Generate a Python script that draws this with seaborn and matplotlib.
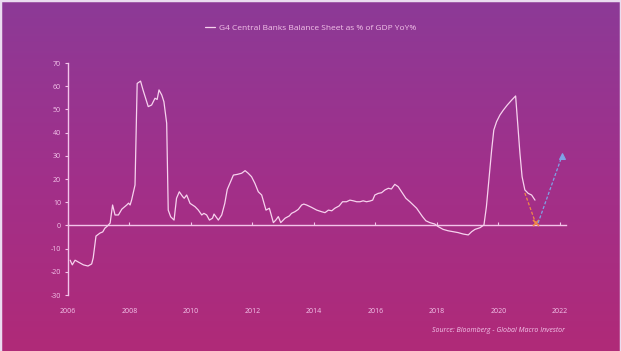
import matplotlib
matplotlib.use("Agg")
import matplotlib.pyplot as plt
import numpy as np
import pandas as pd
import seaborn as sns
from matplotlib.colors import LinearSegmentedColormap

# G4 central bank balance sheet as % of GDP, YoY%
years = [
    2006.07, 2006.14, 2006.23, 2006.50, 2006.65, 2006.77, 2006.82, 2006.91,
    2007.04, 2007.13, 2007.20, 2007.28, 2007.37, 2007.45, 2007.53, 2007.64,
    2007.75, 2007.91, 2007.97, 2008.02, 2008.07, 2008.18, 2008.25, 2008.36,
    2008.44, 2008.61, 2008.72, 2008.83, 2008.90, 2008.96, 2009.05, 2009.12,
    2009.21, 2009.26, 2009.34, 2009.45, 2009.53, 2009.62, 2009.73, 2009.78,
    2009.86, 2009.97, 2010.13, 2010.24, 2010.35, 2010.42, 2010.51, 2010.60,
    2010.70, 2010.75, 2010.89, 2011.00, 2011.10, 2011.18, 2011.38, 2011.51,
    2011.65, 2011.76, 2011.86, 2011.97, 2012.08, 2012.19, 2012.30, 2012.44,
    2012.55, 2012.68, 2012.76, 2012.84, 2012.92, 2013.06, 2013.20, 2013.27,
    2013.38, 2013.49, 2013.60, 2013.67, 2013.76, 2013.92, 2014.09, 2014.25,
    2014.36, 2014.47, 2014.58, 2014.68, 2014.82, 2014.93, 2015.06, 2015.17,
    2015.28, 2015.39, 2015.50, 2015.60, 2015.71, 2015.82, 2015.91, 2015.98,
    2016.09, 2016.20, 2016.31, 2016.42, 2016.52, 2016.63, 2016.74, 2016.85,
    2016.99, 2017.12, 2017.23, 2017.34, 2017.42, 2017.53, 2017.64, 2017.77,
    2017.93, 2018.04, 2018.20, 2018.36, 2018.53, 2018.69, 2018.85, 2019.02,
    2019.13, 2019.24, 2019.40, 2019.53, 2019.61, 2019.70, 2019.78, 2019.85,
    2019.94, 2020.05, 2020.16, 2020.29, 2020.43, 2020.56, 2020.62, 2020.70,
    2020.77, 2020.86, 2020.97, 2021.08, 2021.19,
]
values = [
    -15, -17, -15, -17, -17.5, -16.6, -14, -4.6,
    -3.3, -2.8, -1.2, -0.3, 1, 8.8, 4.5, 4.5,
    7, 8.8, 9.6, 8.8, 11, 17.4, 61.2, 62.2,
    58.4, 51.2, 51.9, 54.8, 54.3, 58.4, 56.2, 53.3,
    44, 6.6, 3.7, 2.3, 11.7, 14.5, 12.4, 11.7,
    13.1, 9.5, 8.1, 6.6, 4.5, 5.2, 4.5, 2.3,
    3.1, 4.9, 2.3, 4.5, 9.5, 15.5, 21.7, 22,
    22.5, 23.6, 22.5, 21, 18.1, 14.5, 13.1, 6.6,
    7.4, 1.2, 2.3, 3.8, 1.2, 3.1, 4.1, 5.2,
    5.9, 6.9, 8.8, 9.2, 8.8, 7.8, 6.6, 5.9,
    5.5, 6.6, 6.3, 7.4, 8.4, 10.2, 10.2, 10.9,
    10.6, 10.2, 10.2, 10.6, 10.2, 10.5, 10.9, 13.1,
    13.8, 14.1, 15.3, 16, 15.7, 17.7, 16.7, 14.5,
    11.7, 10.2, 8.8, 7.4, 5.9, 3.8, 2.0, 1.2,
    0.6, -0.5, -1.7, -2.3, -2.7, -3.1, -3.7, -4.1,
    -2.7, -1.7, -1.0, 0.2, 8.1, 21, 32.5, 41.1,
    44.7, 47.6, 49.7, 51.9, 54, 55.8, 45.4, 31.1,
    21, 15.3, 13.8, 13.1, 10.9,
]

# hand-drawn projections
down_years = [2020.86, 2021.21]
down_values = [14, 1]
up_years = [2021.29, 2022.07]
up_values = [1, 30]

year_ticks = [2006, 2008, 2010, 2012, 2014, 2016, 2018, 2020, 2022]
value_ticks = [-30, -20, -10, 0, 10, 20, 30, 40, 50, 60, 70]

series_label = "G4 Central Banks Balance Sheet as % of GDP YoY%"
source_note = "Source: Bloomberg - Global Macro Investor"

sns.set_style("ticks")
plt.rcParams["font.family"] = ["Open Sans", "DejaVu Sans"]
plt.rcParams["axes.unicode_minus"] = False

light = "#f3c4ea"
line_col = "#f7d2ee"
orange = "#f08a46"
blue = "#7fa2e6"

fig = plt.figure(figsize=(6.21, 3.51), dpi=100)

# gradient background
bg = fig.add_axes([0, 0, 1, 1], zorder=0)
cmap = LinearSegmentedColormap.from_list("bg", ["#8c3a97", "#a1308a", "#b02a78"])
grad = np.linspace(0, 1, 256).reshape(-1, 1)
bg.imshow(grad, aspect="auto", cmap=cmap, extent=[0, 1, 0, 1], origin="upper")
bg.set_xticks([])
bg.set_yticks([])
for side, spine in bg.spines.items():
    spine.set_visible(side != "bottom")
    spine.set_color("#eadcf0")
    spine.set_linewidth(2.5)

ax = fig.add_axes([0.1095, 0.1595, 0.802, 0.661], zorder=1)
ax.patch.set_alpha(0)

main = pd.DataFrame({"year": years, "value": values})
sns.lineplot(data=main, x="year", y="value", color=line_col, linewidth=0.9,
             label=series_label, ax=ax, legend=False, sort=False)
sns.lineplot(x=down_years, y=down_values, color=orange, linewidth=0.9,
             linestyle=(0, (2.5, 1.5)), marker="x", markersize=4, markevery=[1],
             markeredgecolor=orange, markeredgewidth=1.2, ax=ax, legend=False)
sns.lineplot(x=up_years, y=up_values, color=blue, linewidth=0.9,
             linestyle=(0, (2.5, 1.5)), marker="^", markersize=4, markevery=[1],
             markeredgecolor=blue, ax=ax, legend=False)

ax.set_xlim(2006, 2022.2)
ax.set_ylim(-30, 70)
ax.set_xticks(year_ticks)
ax.set_yticks(value_ticks)
ax.set_xlabel("")
ax.set_ylabel("")
for side in ("top", "right", "bottom"):
    ax.spines[side].set_visible(False)
ax.spines["left"].set_color(light)
ax.spines["left"].set_linewidth(1)
ax.tick_params(axis="x", length=0, pad=9, labelsize=5, labelcolor=light)
ax.tick_params(axis="y", length=2, width=0.8, color=light, pad=3,
               labelsize=5, labelcolor=light)

# zero line carrying the year ticks
zero = ax.secondary_xaxis(0.3)
zero.set_xticks(year_ticks)
zero.set_xticklabels([])
zero.tick_params(direction="in", length=2.5, width=0.8, color=light)
zero.spines["bottom"].set_color(light)
zero.spines["bottom"].set_linewidth(1)

handles, labels = ax.get_legend_handles_labels()
leg = ax.legend(handles[:1], labels[:1], loc="center", bbox_to_anchor=(0.5, 0.92),
                bbox_transform=fig.transFigure, frameon=False, fontsize=6,
                handlelength=1.2, handletextpad=0.4, labelcolor=light)

fig.text(0.91, 0.058, source_note, ha="right", va="center", fontsize=5,
         style="italic", color=light)

fig.savefig("out.png", dpi=100)
